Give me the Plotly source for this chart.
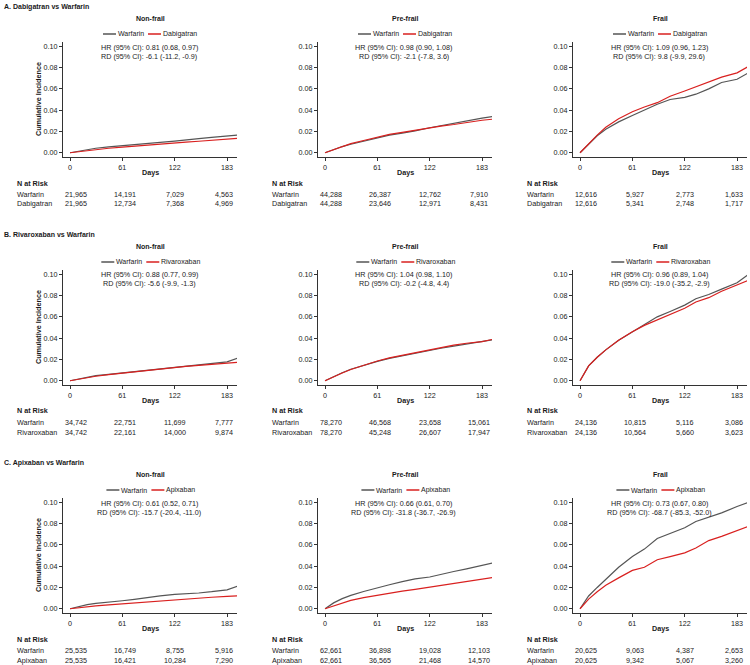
import plotly.graph_objects as go

days = [0, 10, 20, 30, 45, 61, 75, 90, 105, 122, 135, 150, 165, 183, 195]
risk_days = [0, 61, 122, 183]

comparisons = ["A. Dabigatran vs Warfarin", "B. Rivaroxaban vs Warfarin", "C. Apixaban vs Warfarin"]
drugs = ["Dabigatran", "Rivaroxaban", "Apixaban"]
groups = ["Non-frail", "Pre-frail", "Frail"]

# cumulative incidence, A. dabigatran vs warfarin
dabi_nf_warf = [0, 0.0015, 0.003, 0.0042, 0.0055, 0.0068, 0.0078, 0.0088, 0.0098, 0.011, 0.0118, 0.0132, 0.0145, 0.0155, 0.0165]
dabi_nf_drug = [0, 0.001, 0.002, 0.003, 0.0042, 0.0053, 0.0063, 0.0073, 0.0083, 0.0093, 0.01, 0.0108, 0.0117, 0.0127, 0.0135]
dabi_pf_warf = [0, 0.003, 0.0058, 0.008, 0.011, 0.0142, 0.0165, 0.0185, 0.0205, 0.0235, 0.0255, 0.0275, 0.03, 0.0325, 0.034]
dabi_pf_drug = [0, 0.003, 0.006, 0.0085, 0.0115, 0.0145, 0.0172, 0.0192, 0.0212, 0.0235, 0.025, 0.0265, 0.0285, 0.0305, 0.0315]
dabi_f_warf = [0, 0.0085, 0.016, 0.022, 0.029, 0.035, 0.040, 0.0455, 0.050, 0.052, 0.055, 0.060, 0.066, 0.069, 0.0745]
dabi_f_drug = [0, 0.0085, 0.0165, 0.024, 0.032, 0.0385, 0.043, 0.047, 0.053, 0.058, 0.062, 0.066, 0.071, 0.075, 0.0805]

# B. rivaroxaban vs warfarin
riva_nf_warf = [0, 0.0018, 0.0035, 0.0048, 0.006, 0.0073, 0.0085, 0.0098, 0.011, 0.0125, 0.0135, 0.0148, 0.016, 0.0178, 0.021]
riva_nf_drug = [0, 0.0015, 0.003, 0.0042, 0.0057, 0.0072, 0.0085, 0.0097, 0.011, 0.0125, 0.0135, 0.0145, 0.0155, 0.0165, 0.0172]
riva_pf_warf = [0, 0.004, 0.0075, 0.0108, 0.0145, 0.0182, 0.021, 0.0235, 0.026, 0.0285, 0.0305, 0.0325, 0.0345, 0.0365, 0.0385]
riva_pf_drug = [0, 0.0038, 0.0073, 0.0106, 0.0145, 0.0185, 0.0215, 0.024, 0.0265, 0.029, 0.0315, 0.0335, 0.0352, 0.0368, 0.0388]
riva_f_warf = [0, 0.014, 0.022, 0.029, 0.038, 0.046, 0.053, 0.060, 0.065, 0.071, 0.077, 0.081, 0.086, 0.092, 0.099]
riva_f_drug = [0, 0.014, 0.022, 0.029, 0.038, 0.046, 0.052, 0.057, 0.062, 0.068, 0.074, 0.078, 0.084, 0.090, 0.094]

# C. apixaban vs warfarin
apix_nf_warf = [0, 0.002, 0.0038, 0.005, 0.006, 0.0075, 0.0088, 0.0105, 0.012, 0.0134, 0.0138, 0.0148, 0.016, 0.0178, 0.021]
apix_nf_drug = [0, 0.001, 0.002, 0.0027, 0.0037, 0.0047, 0.0057, 0.0067, 0.0077, 0.0088, 0.0095, 0.0102, 0.0108, 0.0116, 0.012]
apix_pf_warf = [0, 0.0055, 0.0095, 0.0125, 0.0162, 0.0198, 0.0225, 0.0255, 0.028, 0.0298, 0.0325, 0.035, 0.0375, 0.041, 0.043]
apix_pf_drug = [0, 0.0028, 0.0055, 0.0078, 0.0105, 0.0128, 0.0148, 0.0165, 0.0182, 0.0203, 0.0218, 0.0238, 0.0258, 0.0283, 0.0293]
apix_f_warf = [0, 0.012, 0.02, 0.028, 0.039, 0.049, 0.056, 0.066, 0.071, 0.076, 0.082, 0.086, 0.09, 0.096, 0.0995]
apix_f_drug = [0, 0.009, 0.016, 0.022, 0.029, 0.036, 0.039, 0.046, 0.049, 0.0525, 0.057, 0.064, 0.068, 0.073, 0.077]

# numbers at risk
dabi_nf_n_warf = ["21,965", "14,191", "7,029", "4,563"]
dabi_nf_n_drug = ["21,965", "12,734", "7,368", "4,969"]
dabi_pf_n_warf = ["44,288", "26,387", "12,762", "7,910"]
dabi_pf_n_drug = ["44,288", "23,646", "12,971", "8,431"]
dabi_f_n_warf = ["12,616", "5,927", "2,773", "1,633"]
dabi_f_n_drug = ["12,616", "5,341", "2,748", "1,717"]
riva_nf_n_warf = ["34,742", "22,751", "11,699", "7,777"]
riva_nf_n_drug = ["34,742", "22,161", "14,000", "9,874"]
riva_pf_n_warf = ["78,270", "46,568", "23,658", "15,061"]
riva_pf_n_drug = ["78,270", "45,248", "26,607", "17,947"]
riva_f_n_warf = ["24,136", "10,815", "5,116", "3,086"]
riva_f_n_drug = ["24,136", "10,564", "5,660", "3,623"]
apix_nf_n_warf = ["25,535", "16,749", "8,755", "5,916"]
apix_nf_n_drug = ["25,535", "16,421", "10,284", "7,290"]
apix_pf_n_warf = ["62,661", "36,898", "19,028", "12,103"]
apix_pf_n_drug = ["62,661", "36,565", "21,468", "14,570"]
apix_f_n_warf = ["20,625", "9,063", "4,387", "2,653"]
apix_f_n_drug = ["20,625", "9,342", "5,067", "3,260"]

hr_text = [
    "HR (95% CI): 0.81 (0.68, 0.97)", "HR (95% CI): 0.98 (0.90, 1.08)", "HR (95% CI): 1.09 (0.96, 1.23)",
    "HR (95% CI): 0.88 (0.77, 0.99)", "HR (95% CI): 1.04 (0.98, 1.10)", "HR (95% CI): 0.96 (0.89, 1.04)",
    "HR (95% CI): 0.61 (0.52, 0.71)", "HR (95% CI): 0.66 (0.61, 0.70)", "HR (95% CI): 0.73 (0.67, 0.80)",
]
rd_text = [
    "RD (95% CI): -6.1 (-11.2, -0.9)", "RD (95% CI): -2.1 (-7.8, 3.6)", "RD (95% CI): 9.8 (-9.9, 29.6)",
    "RD (95% CI): -5.6 (-9.9, -1.3)", "RD (95% CI): -0.2 (-4.8, 4.4)", "RD (95% CI): -19.0 (-35.2, -2.9)",
    "RD (95% CI): -15.7 (-20.4, -11.0)", "RD (95% CI): -31.8 (-36.7, -26.9)", "RD (95% CI): -68.7 (-85.3, -52.0)",
]

curves = [
    (dabi_nf_warf, dabi_nf_drug), (dabi_pf_warf, dabi_pf_drug), (dabi_f_warf, dabi_f_drug),
    (riva_nf_warf, riva_nf_drug), (riva_pf_warf, riva_pf_drug), (riva_f_warf, riva_f_drug),
    (apix_nf_warf, apix_nf_drug), (apix_pf_warf, apix_pf_drug), (apix_f_warf, apix_f_drug),
]
at_risk = [
    (dabi_nf_n_warf, dabi_nf_n_drug), (dabi_pf_n_warf, dabi_pf_n_drug), (dabi_f_n_warf, dabi_f_n_drug),
    (riva_nf_n_warf, riva_nf_n_drug), (riva_pf_n_warf, riva_pf_n_drug), (riva_f_n_warf, riva_f_n_drug),
    (apix_nf_n_warf, apix_nf_n_drug), (apix_pf_n_warf, apix_pf_n_drug), (apix_f_n_warf, apix_f_n_drug),
]

W, H = 750, 665
GRAY = "#555555"
RED = "#d9201f"
FONT = "Liberation Sans, Arial, sans-serif"
FS = 7.2


def px(x):
    return x / W


def py(y):
    return 1 - y / H


col_left = [63, 318, 573]
plot_w = 174
row_off = [0, 228, 456]

fig = go.Figure()
layout = {}
annotations = []
shapes = []


def text(x, y, s, bold=False, anchor="center", size=FS, angle=0):
    if bold:
        s = "<b>" + s + "</b>"
    annotations.append(dict(x=px(x), y=py(y), xref="paper", yref="paper", text=s, showarrow=False,
                            xanchor=anchor, yanchor="middle", textangle=angle,
                            font=dict(family=FONT, size=size, color="#1a1a1a")))


for r in range(3):
    off = row_off[r]
    text(2, 7 + off, comparisons[r], bold=True, anchor="left", size=7.0)
    for c in range(3):
        k = r * 3 + c
        sfx = "" if k == 0 else str(k + 1)
        x0 = col_left[c]
        cx = x0 + plot_w / 2
        warf, drug = curves[k]

        fig.add_trace(go.Scatter(x=days, y=warf, mode="lines", xaxis="x" + sfx, yaxis="y" + sfx,
                                 line=dict(color=GRAY, width=1.2), name="Warfarin", showlegend=False))
        fig.add_trace(go.Scatter(x=days, y=drug, mode="lines", xaxis="x" + sfx, yaxis="y" + sfx,
                                 line=dict(color=RED, width=1.2), name=drugs[r], showlegend=False))

        axis_style = dict(showgrid=False, zeroline=False, showline=True, linecolor="#333333", linewidth=1,
                          ticks="outside", ticklen=3, tickwidth=1, tickcolor="#333333",
                          tickfont=dict(family=FONT, size=FS, color="#1a1a1a"))
        layout["xaxis" + sfx] = dict(domain=[px(x0), px(x0 + plot_w)], anchor="y" + sfx,
                                     range=[-8.2, 194.6], tickvals=risk_days, **axis_style)
        layout["yaxis" + sfx] = dict(domain=[py(157 + off), py(42 + off)], anchor="x" + sfx,
                                     range=[-0.004, 0.104], tickvals=[0, 0.02, 0.04, 0.06, 0.08, 0.10],
                                     tickformat=".2f", **axis_style)

        # panel title, legend, estimates
        text(cx, 18 + off, groups[c], bold=True, size=7.0)
        s = (34 - 3.4 * len(drugs[r])) / 2
        ly = py(34 + off)
        shapes.append(dict(type="line", xref="paper", yref="paper", x0=px(cx - 47 + s), x1=px(cx - 34 + s),
                           y0=ly, y1=ly, line=dict(color=GRAY, width=1.5)))
        text(cx - 34 + s, 34 + off, "Warfarin", anchor="left", size=7.0)
        shapes.append(dict(type="line", xref="paper", yref="paper", x0=px(cx - 2 + s), x1=px(cx + 11 + s),
                           y0=ly, y1=ly, line=dict(color=RED, width=1.5)))
        text(cx + 11 + s, 34 + off, drugs[r], anchor="left", size=7.0)
        text(cx - 1, 47 + off, hr_text[k])
        text(cx - 1, 56 + off, rd_text[k])

        text(cx, 172 + off, "Days", bold=True)
        if c == 0:
            text(38, 99 + off, "Cumulative Incidence", bold=True, angle=-90)

        # number at risk table
        lx = x0 - 48
        text(lx, 183 + off, "N at Risk", bold=True, anchor="left")
        text(lx, 194 + off, "Warfarin", anchor="left")
        text(lx, 204 + off, drugs[r], anchor="left")
        n_warf, n_drug = at_risk[k]
        for j in range(4):
            tx = x0 + 13 + j * 49.3
            text(tx, 194 + off, n_warf[j])
            text(tx, 204 + off, n_drug[j])

fig.update_layout(
    width=W, height=H,
    margin=dict(l=0, r=0, t=0, b=0),
    paper_bgcolor="white", plot_bgcolor="white",
    showlegend=False,
    font=dict(family=FONT, size=FS, color="#1a1a1a"),
    annotations=annotations, shapes=shapes,
    **layout,
)

fig.write_html("out.html", config={"displayModeBar": False},
               post_script="document.body.style.margin='0px'; document.body.style.overflow='hidden';")
